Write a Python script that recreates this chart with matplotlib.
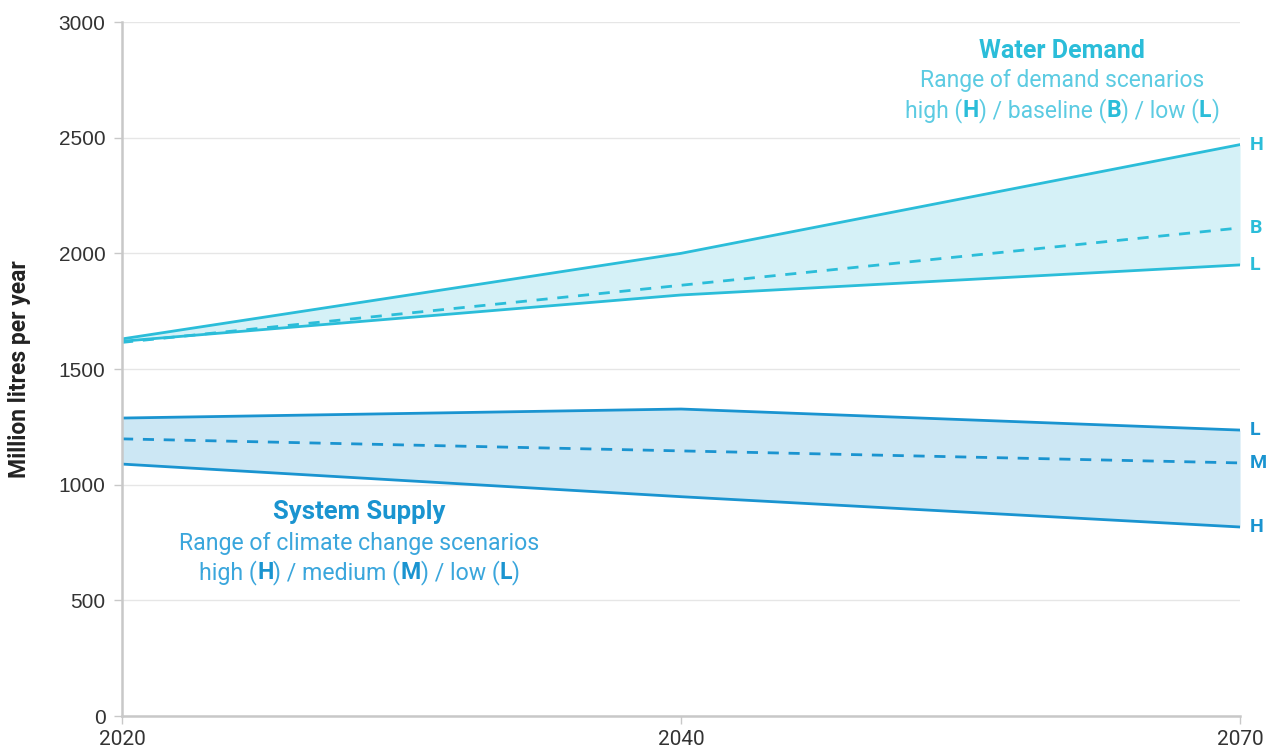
import matplotlib
matplotlib.use("Agg")
import matplotlib.pyplot as plt
from matplotlib.transforms import IdentityTransform

plt.rcParams['font.family'] = ['Roboto', 'DejaVu Sans']

years = ['2020', '2040', '2070']
demand_high = [1630, 2000, 2470]
demand_base = [1615, 1862, 2110]
demand_low = [1620, 1820, 1950]
supply_low = [1288, 1327, 1236]
supply_med = [1198, 1146, 1094]
supply_high = [1089, 948, 817]

demand_col = '#2bbdd9'
demand_fill = '#d5f1f7'
demand_txt = '#5ccbe2'
supply_col = '#1a94d0'
supply_fill = '#cce7f4'
supply_txt = '#3aa6dc'

x = list(range(len(years)))  # categorical, equally spaced

fig = plt.figure(figsize=(12.66, 7.51), dpi=100)
ax = fig.add_axes([0.0964, 0.0466, 0.8831, 0.9241])

ax.fill_between(x, demand_low, demand_high, color=demand_fill, lw=0)
ax.fill_between(x, supply_high, supply_low, color=supply_fill, lw=0)
ax.plot(x, demand_high, color=demand_col, lw=2)
ax.plot(x, demand_low, color=demand_col, lw=2)
ax.plot(x, demand_base, color=demand_col, lw=2, ls=(0, (4, 3.5)))
ax.plot(x, supply_low, color=supply_col, lw=2)
ax.plot(x, supply_high, color=supply_col, lw=2)
ax.plot(x, supply_med, color=supply_col, lw=2, ls=(0, (4, 3.5)))

ax.set_xlim(x[0], x[-1])
ax.set_ylim(0, 3000)
ax.set_xticks(x)
ax.set_xticklabels(years)
ax.set_yticks(range(0, 3001, 500))
ax.grid(axis='y', color='#e6e6e6', lw=1)
ax.set_axisbelow(True)
for s in ['top', 'right']:
    ax.spines[s].set_visible(False)
for s in ['left', 'bottom']:
    ax.spines[s].set_color('#c8c8c8')
    ax.spines[s].set_linewidth(1.8)
ax.tick_params(colors='#c8c8c8', labelcolor='#333333', labelsize=15, length=6, width=1)
ax.tick_params(axis='x', pad=4)
ax.tick_params(axis='y', pad=6)
for t in ax.get_yticklabels():
    t.set_fontfamily(['Liberation Sans', 'DejaVu Sans'])

fig.text(20 / 1266, 0.5087, 'Million litres per year', rotation=90, ha='center', va='center',
         fontsize=16.5, fontweight='bold', color='#222222')

# end labels
for lab, val, col in [('H', demand_high[-1], demand_col), ('B', demand_base[-1], demand_col),
                      ('L', demand_low[-1], demand_col), ('L', supply_low[-1], supply_col),
                      ('M', supply_med[-1], supply_col), ('H', supply_high[-1], supply_col)]:
    ax.annotate(lab, (x[-1], val), xytext=(7, 0), textcoords='offset points',
                va='center', ha='left', fontsize=14, fontweight='bold', color=col,
                annotation_clip=False)

renderer = fig.canvas.get_renderer()


def rich_line(xd, yd, parts, size):
    # parts: (text, weight, color); centred on data point, baseline at yd
    px, py = ax.transData.transform((xd, yd))
    texts = []
    for s, w, c in parts:
        t = fig.text(0, 0, s, fontsize=size, fontweight=w, color=c,
                     transform=IdentityTransform(), va='baseline', ha='left')
        texts.append(t)
    widths = [t.get_window_extent(renderer).width for t in texts]
    xx = px - sum(widths) / 2
    for t, w in zip(texts, widths):
        t.set_position((xx, py))
        xx += w


rich_line(1.682, 2844, [('Water Demand', 'bold', demand_col)], 18)
rich_line(1.682, 2719, [('Range of demand scenarios', 'normal', demand_txt)], 16.5)
rich_line(1.682, 2589, [('high (', 'normal', demand_txt), ('H', 'bold', demand_col),
                        (') / baseline (', 'normal', demand_txt), ('B', 'bold', demand_col),
                        (') / low (', 'normal', demand_txt), ('L', 'bold', demand_col),
                        (')', 'normal', demand_txt)], 16.5)

rich_line(0.425, 852, [('System Supply', 'bold', supply_col)], 18.5)
rich_line(0.425, 718, [('Range of climate change scenarios', 'normal', supply_txt)], 16.7)
rich_line(0.425, 592, [('high (', 'normal', supply_txt), ('H', 'bold', supply_col),
                       (') / medium (', 'normal', supply_txt), ('M', 'bold', supply_col),
                       (') / low (', 'normal', supply_txt), ('L', 'bold', supply_col),
                       (')', 'normal', supply_txt)], 16.7)

fig.savefig('out.png', dpi=100)
